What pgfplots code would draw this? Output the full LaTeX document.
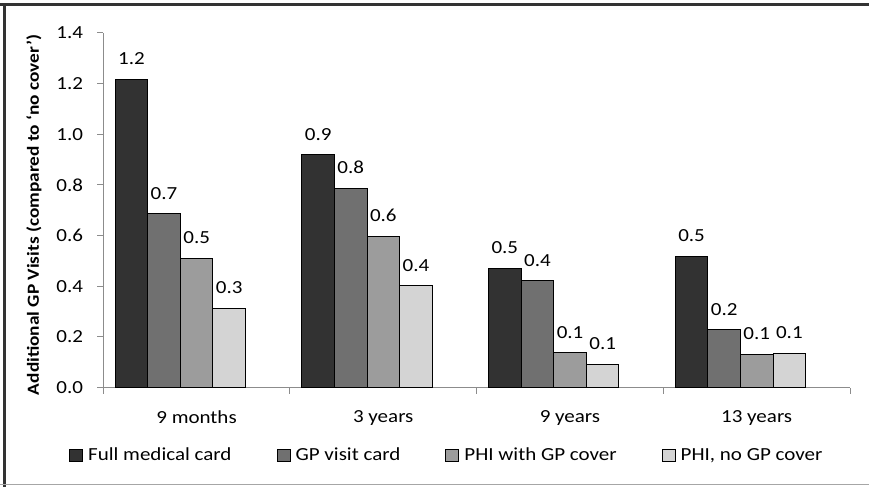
\documentclass[border=0pt]{standalone}
\usepackage{fontspec}
\setmainfont{Carlito}
\usepackage{graphicx}
\usepackage{pgfplots}
\pgfplotsset{compat=1.18}

\definecolor{s1}{HTML}{323232}
\definecolor{s2}{HTML}{707070}
\definecolor{s3}{HTML}{9C9C9C}
\definecolor{s4}{HTML}{D4D4D4}
\definecolor{axgray}{HTML}{8C8C8C}
% the reference text is set a bit wide, so stretch it a little
\newcommand{\wide}[1]{\scalebox{1.14}[1]{#1}}
\newcommand{\lblfont}{\fontsize{18.5}{22}\selectfont}

\begin{document}
\begin{tikzpicture}
\useasboundingbox (0,0) rectangle (869bp,487bp);
% frame of the figure
\draw[black!80, line width=2.5bp] (0,482.5bp) -- (869bp,482.5bp);
\draw[black!80, line width=2.5bp] (4.5bp,0) -- (4.5bp,484bp);
\draw[gray!70, line width=1bp] (0,2bp) -- (869bp,2bp);
\begin{axis}[
    at={(103.2bp,99.3bp)}, anchor=south west,
    scale only axis, width=746.8bp, height=355bp,
    ybar=0pt, bar width=32.6bp,
    every axis plot/.append style={
        legend image code/.code={\draw[##1, draw=black, line width=1bp] (0bp,-6bp) rectangle (13bp,6bp);}},
    xmin=-0.5, xmax=3.5, ymin=0, ymax=1.4,
    axis x line=bottom, axis y line=left,
    axis line style={-, axgray, line width=1bp},
    tick style={axgray, line width=1bp},
    tick align=outside, major tick length=6bp,
    /pgf/number format/assume math mode=true,
    ytick={0,0.2,0.4,0.6,0.8,1.0,1.2,1.4},
    yticklabel={\wide{\pgfmathprintnumber[fixed,fixed zerofill,precision=1]{\tick}}},
    yticklabel style={font=\lblfont, anchor=east, inner sep=0pt, xshift=-14bp},
    xtick={-0.5,0.5,1.5,2.5,3.5}, xticklabels={},
    extra x ticks={0,1,2,3},
    extra x tick labels={\wide{9 months},\wide{3 years},\wide{9 years},\wide{13 years}},
    extra x tick style={major tick length=0pt},
    xticklabel style={font=\lblfont, anchor=north, inner sep=0pt, yshift=-23bp},
    ylabel={\wide{\textbf{Additional GP Visits (compared to `no cover')}}},
    ylabel style={at={(axis description cs:-0.0927,0.4865)}, anchor=center,
        font=\fontsize{17}{20}\selectfont},
    point meta=y,
    nodes near coords={\wide{\pgfmathprintnumber[fixed,fixed zerofill,precision=1]{\pgfplotspointmeta}}},
    every node near coord/.append style={font=\lblfont, inner sep=0pt, anchor=south, yshift=14bp},
    clip=false,
    legend columns=4,
    legend cell align=left,
    legend style={at={(axis description cs:-0.0458,-0.1896)}, anchor=west,
        draw=none, fill=none, inner sep=0pt, font=\lblfont,
        /tikz/every even column/.append style={column sep=45bp},
        /tikz/every odd column/.append style={column sep=5bp},
        nodes={inner sep=0pt}},
]
\addplot[fill=s1, draw=black, line width=1bp, bar shift=-65.1bp]
    coordinates {(0,1.217) (1,0.919) (2,0.471) (3,0.517)};
\addplot[fill=s2, draw=black, line width=1bp, bar shift=-32.5bp]
    coordinates {(0,0.686) (1,0.786) (2,0.422) (3,0.228)};
\addplot[fill=s3, draw=black, line width=1bp, bar shift=0.1bp]
    coordinates {(0,0.509) (1,0.598) (2,0.138) (3,0.132)};
\addplot[fill=s4, draw=black, line width=1bp, bar shift=32.7bp]
    coordinates {(0,0.314) (1,0.402) (2,0.091) (3,0.136)};
\legend{\wide{Full medical card},\wide{GP visit card},\wide{PHI with GP cover},\wide{PHI, no GP cover}}
\end{axis}
\end{tikzpicture}
\end{document}
